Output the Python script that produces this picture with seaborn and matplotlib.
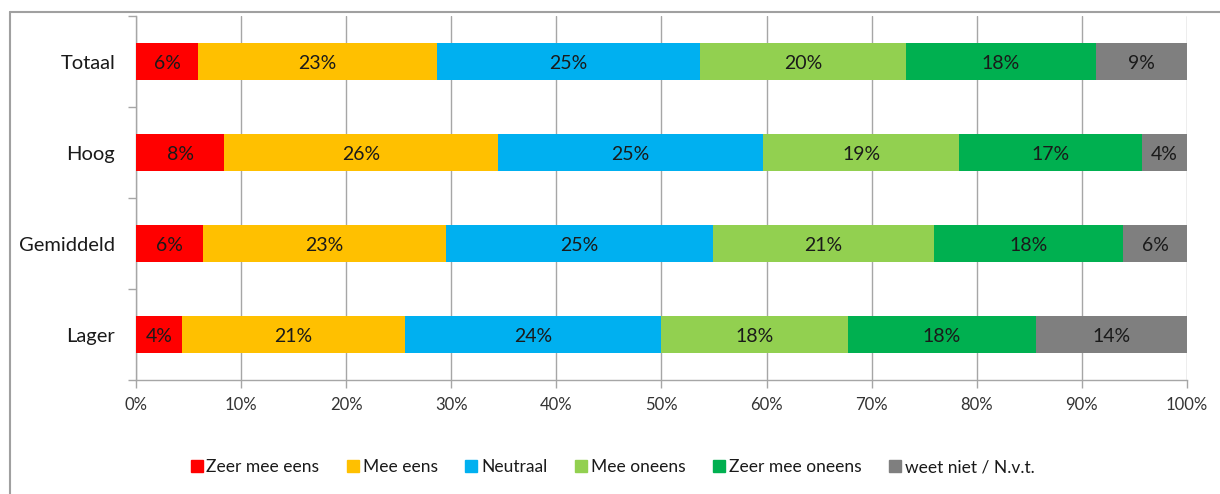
import matplotlib
matplotlib.use("Agg")
import matplotlib.pyplot as plt
from matplotlib.lines import Line2D
import numpy as np
import pandas as pd
import seaborn as sns

# data (percentages per group)
groepen = ["Totaal", "Hoog", "Gemiddeld", "Lager"]
antwoorden = ["Zeer mee eens", "Mee eens", "Neutraal", "Mee oneens",
              "Zeer mee oneens", "weet niet / N.v.t."]
zeer_mee_eens = [5.9, 8.4, 6.4, 4.4]
mee_eens = [22.7, 26.0, 23.1, 21.2]
neutraal = [25.1, 25.3, 25.4, 24.4]
mee_oneens = [19.6, 18.6, 21.0, 17.7]
zeer_mee_oneens = [18.0, 17.4, 18.0, 17.9]
weet_niet = [8.7, 4.3, 6.1, 14.4]
kleuren = ["#FF0000", "#FFC000", "#00B0F0", "#92D050", "#00B050", "#7F7F7F"]

df = pd.DataFrame({"groep": groepen})
for naam, waarden in zip(antwoorden, [zeer_mee_eens, mee_eens, neutraal, mee_oneens,
                                      zeer_mee_oneens, weet_niet]):
    df[naam] = waarden
cum = df[antwoorden].cumsum(axis=1)

sns.set_style("white")
plt.rcParams["font.family"] = ["Lato", "DejaVu Sans"]

fig = plt.figure(figsize=(12.2, 4.94), dpi=100)
ax = fig.add_axes([136 / 1220, 1 - 380 / 494, (1187 - 136) / 1220, (380 - 16) / 494])

# stacked bars: draw cumulative totals from the back to the front
for i in range(len(antwoorden) - 1, -1, -1):
    sns.barplot(x=cum[antwoorden[i]], y=df["groep"], orient="h", color=kleuren[i],
                width=0.41, saturation=1, linewidth=0, ax=ax, zorder=3)

for r in range(len(groepen)):
    start = 0
    for i, naam in enumerate(antwoorden):
        w = df.loc[r, naam]
        ax.text(start + w / 2, r + 0.02, f"{int(round(w))}%", ha="center", va="center",
                fontsize=14, color="#1a1a1a", zorder=4)
        start += w

ax.set_xlim(0, 100)
ax.set_ylim(3.5, -0.5)
ax.set_xticks(np.arange(0, 101, 10))
ax.set_xticklabels([f"{t}%" for t in range(0, 101, 10)], fontsize=12, color="#333333")
ax.set_yticks(range(len(groepen)))
ax.set_yticklabels(groepen, fontsize=14.5, color="#1a1a1a")
ax.set_yticks(np.arange(-0.5, 4, 1), minor=True)
ax.tick_params(axis="y", which="major", length=0, pad=15)
ax.tick_params(axis="y", which="minor", length=6, width=1, color="#A6A6A6", direction="out", left=True)
ax.tick_params(axis="x", length=6, width=1, color="#A6A6A6", direction="out", bottom=True, pad=6)
ax.set_xlabel("")
ax.set_ylabel("")
ax.grid(axis="x", color="#A6A6A6", linewidth=1, zorder=0)
ax.set_axisbelow(True)
for s in ["top", "right"]:
    ax.spines[s].set_visible(False)
for s in ["left", "bottom"]:
    ax.spines[s].set_color("#A6A6A6")
    ax.spines[s].set_linewidth(1)

handles = [Line2D([], [], marker="s", linestyle="", markersize=8.5, color=c) for c in kleuren]
fig.legend(handles, antwoorden, loc="center", bbox_to_anchor=(0.501, 1 - 467 / 494), ncol=6,
           frameon=False, fontsize=12.5, handletextpad=0.05, columnspacing=1.45,
           handlelength=1.0, labelcolor="#1a1a1a")

# outer chart border (only left and top visible in the crop)
fig.add_artist(Line2D([10 / 1220, 10 / 1220], [0, 1 - 12 / 494], transform=fig.transFigure,
                      color="#A0A0A0", linewidth=1.5))
fig.add_artist(Line2D([10 / 1220, 1], [1 - 12 / 494, 1 - 12 / 494], transform=fig.transFigure,
                      color="#A0A0A0", linewidth=1.5))

fig.savefig("out.png", dpi=100)
